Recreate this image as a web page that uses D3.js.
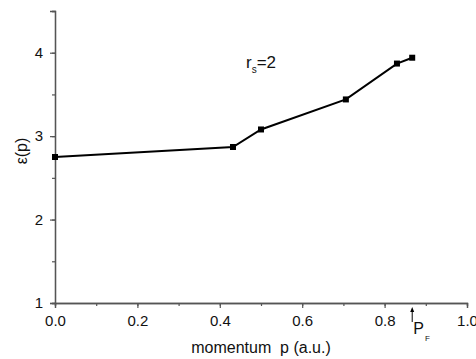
<!DOCTYPE html>
<html>
<head>
    <script src="https://cdn.jsdelivr.net/npm/d3@7"></script>
    <style>
        body { margin: 0; background: #fff; }
        text { font-family: Arial, "Liberation Sans", sans-serif; fill: #111; }
    </style>
</head>
<body>
    <div id="viz"></div>
    <script type="text/javascript">

    var momentum = [0.0, 0.432, 0.5, 0.706, 0.83, 0.867];
    var energy   = [2.75, 2.87, 3.08, 3.44, 3.87, 3.94];
    var xTicks = [0.0, 0.2, 0.4, 0.6, 0.8, 1.0];
    var yTicks = [1, 2, 3, 4];
    var pFermi = 0.867;

    var svg = d3.select("#viz")
        .append("svg")
        .attr("width", 476)
        .attr("height", 359);

    var x = d3.scaleLinear().domain([0, 1]).range([55, 467]);
    var y = d3.scaleLinear().domain([1, 4.5]).range([303, 11]);

    var axisColor = "#555";

    // minor ticks first, then major
    var xAxisMinor = d3.axisBottom(x).tickValues(d3.range(0, 1.01, 0.1)).tickSize(3).tickFormat("");
    var xAxis = d3.axisBottom(x).tickValues(xTicks).tickSize(5).tickFormat(d3.format(".1f"));
    var yAxisMinor = d3.axisLeft(y).tickValues(d3.range(1, 4.51, 0.5)).tickSize(3).tickFormat("");
    var yAxis = d3.axisLeft(y).tickValues(yTicks).tickSize(5).tickFormat(d3.format("d"));

    function styleAxis(g) {
        g.select(".domain").attr("stroke", axisColor).attr("stroke-width", 1.3);
        g.selectAll(".tick line").attr("stroke", axisColor).attr("stroke-width", 1.2);
        g.selectAll("text").style("font-size", "15px").attr("fill", "#111");
    }

    svg.append("g").attr("transform", "translate(0,303)").call(xAxisMinor).call(styleAxis);
    svg.append("g").attr("transform", "translate(0,303)").call(xAxis).call(styleAxis)
        .selectAll(".tick text").attr("dy", "1em");
    svg.append("g").attr("transform", "translate(55,0)").call(yAxisMinor).call(styleAxis);
    svg.append("g").attr("transform", "translate(55,0)").call(yAxis).call(styleAxis)
        .selectAll(".tick text").attr("dx", "-4px");

    var pts = momentum.map(function(m, i) { return [m, energy[i]]; });

    svg.append("path")
        .datum(pts)
        .attr("fill", "none")
        .attr("stroke", "#000")
        .attr("stroke-width", 2)
        .attr("d", d3.line().x(function(d) { return x(d[0]); }).y(function(d) { return y(d[1]); }));

    svg.selectAll("rect.pt")
        .data(pts)
        .enter().append("rect")
        .attr("class", "pt")
        .attr("x", function(d) { return x(d[0]) - 3; })
        .attr("y", function(d) { return y(d[1]) - 3; })
        .attr("width", 6)
        .attr("height", 6)
        .attr("fill", "#000");

    // axis titles
    svg.append("text")
        .attr("x", 261)
        .attr("y", 353)
        .attr("text-anchor", "middle")
        .attr("xml:space", "preserve")
        .style("white-space", "pre")
        .style("font-size", "16px")
        .text("momentum  p (a.u.)");

    svg.append("text")
        .attr("transform", "translate(27,151) rotate(-90)")
        .attr("text-anchor", "middle")
        .style("font-size", "16px")
        .text("\u03b5(p)");

    // r_s = 2 label
    var rs = svg.append("text").attr("x", 246).attr("y", 68).style("font-size", "17px");
    rs.append("tspan").text("r");
    rs.append("tspan").attr("dy", 5).style("font-size", "10px").text("s");
    rs.append("tspan").attr("dy", -5).text("=2");

    // Fermi momentum marker
    svg.append("line")
        .attr("x1", x(pFermi)).attr("x2", x(pFermi))
        .attr("y1", 322).attr("y2", 310)
        .attr("stroke", "#000").attr("stroke-width", 1);
    svg.append("path")
        .attr("d", "M" + (x(pFermi) - 2) + ",312 L" + x(pFermi) + ",307 L" + (x(pFermi) + 2) + ",312 Z")
        .attr("fill", "#000");
    var pf = svg.append("text").attr("x", x(pFermi) + 1).attr("y", 334).style("font-size", "16px");
    pf.append("tspan").text("P");
    pf.append("tspan").attr("dy", 7).attr("dx", 1).style("font-size", "8px").text("F");

    </script>
</body>
</html>
